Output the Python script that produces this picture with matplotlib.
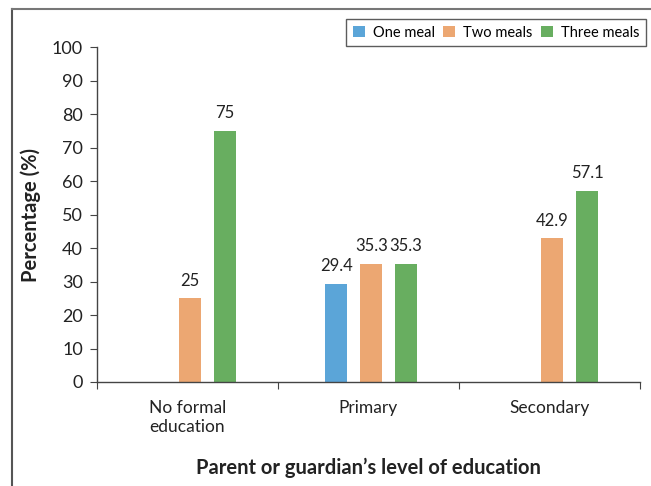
import matplotlib.pyplot as plt
import numpy as np
from matplotlib.lines import Line2D
from matplotlib.patches import Patch

plt.rcParams['font.family'] = ['Lato', 'DejaVu Sans']

categories = ['No formal\neducation', 'Primary', 'Secondary']
series = ['One meal', 'Two meals', 'Three meals']
one_meal = [None, 29.4, None]
two_meals = [25, 35.3, 42.9]
three_meals = [75, 35.3, 57.1]
labels_one = ['', '29.4', '']
labels_two = ['25', '35.3', '42.9']
labels_three = ['75', '35.3', '57.1']
colors = ['#5ba5d8', '#eca772', '#68ae60']

fig = plt.figure(figsize=(6.51, 4.86), dpi=100)
ax = fig.add_axes([0.149, 0.214, 0.834, 0.689])

x = np.arange(len(categories))
width = 0.12
offs = [-0.193, 0.0, 0.193]
data = [one_meal, two_meals, three_meals]
labs = [labels_one, labels_two, labels_three]
for k in range(3):
    vals = [v if v is not None else 0 for v in data[k]]
    bars = ax.bar(x + offs[k] + 0.015, vals, width, color=colors[k])
    for b, v, t in zip(bars, data[k], labs[k]):
        if v is None:
            b.set_visible(False)
            continue
        ax.text(b.get_x() + b.get_width() / 2, v + 2.8, t, ha='center', va='bottom',
                fontsize=12, color='#222222')

ax.set_xlim(-0.5, 2.5)
ax.set_ylim(0, 100)
ax.set_yticks(np.arange(0, 101, 10))
ax.set_xticks([-0.5, 0.5, 1.5, 2.5])
ax.set_xticklabels([])
ax.set_xticks(x, minor=True)
ax.set_xticklabels(categories, minor=True, fontsize=12.5, color='#222222', linespacing=1.25)
ax.tick_params(axis='x', which='minor', length=0, pad=13)
ax.tick_params(axis='x', which='major', length=5, direction='out', color='#444444')
ax.tick_params(axis='y', length=5, direction='out', labelsize=13, color='#444444',
               labelcolor='#222222', pad=5)
for s in ['top', 'right']:
    ax.spines[s].set_visible(False)
for s in ['left', 'bottom']:
    ax.spines[s].set_color('#444444')
    ax.spines[s].set_linewidth(1.0)

ax.set_ylabel('Percentage (%)', fontsize=14.5, fontweight='bold', color='#222222', labelpad=8)
ax.set_xlabel('Parent or guardian\u2019s level of education', fontsize=14.5,
              fontweight='bold', color='#222222', labelpad=16)

handles = [Patch(facecolor=c, label=s) for c, s in zip(colors, series)]
leg = ax.legend(handles=handles, loc='upper right', bbox_to_anchor=(1.012, 1.084), ncol=3,
                fontsize=10.5, frameon=True, fancybox=False, handlelength=0.82,
                handleheight=0.82, handletextpad=0.55, columnspacing=0.6, borderpad=0.45,
                borderaxespad=0)
leg.get_frame().set_edgecolor('#333333')
leg.get_frame().set_linewidth(1.0)

# outer frame lines (left and top)
fig.add_artist(Line2D([12 / 651, 12 / 651], [0, 1 - 9.5 / 486], transform=fig.transFigure,
                      color='#555555', lw=1.5))
fig.add_artist(Line2D([12 / 651, 1], [1 - 9.5 / 486, 1 - 9.5 / 486], transform=fig.transFigure,
                      color='#777777', lw=1.5))

fig.savefig('out.png', dpi=100)
